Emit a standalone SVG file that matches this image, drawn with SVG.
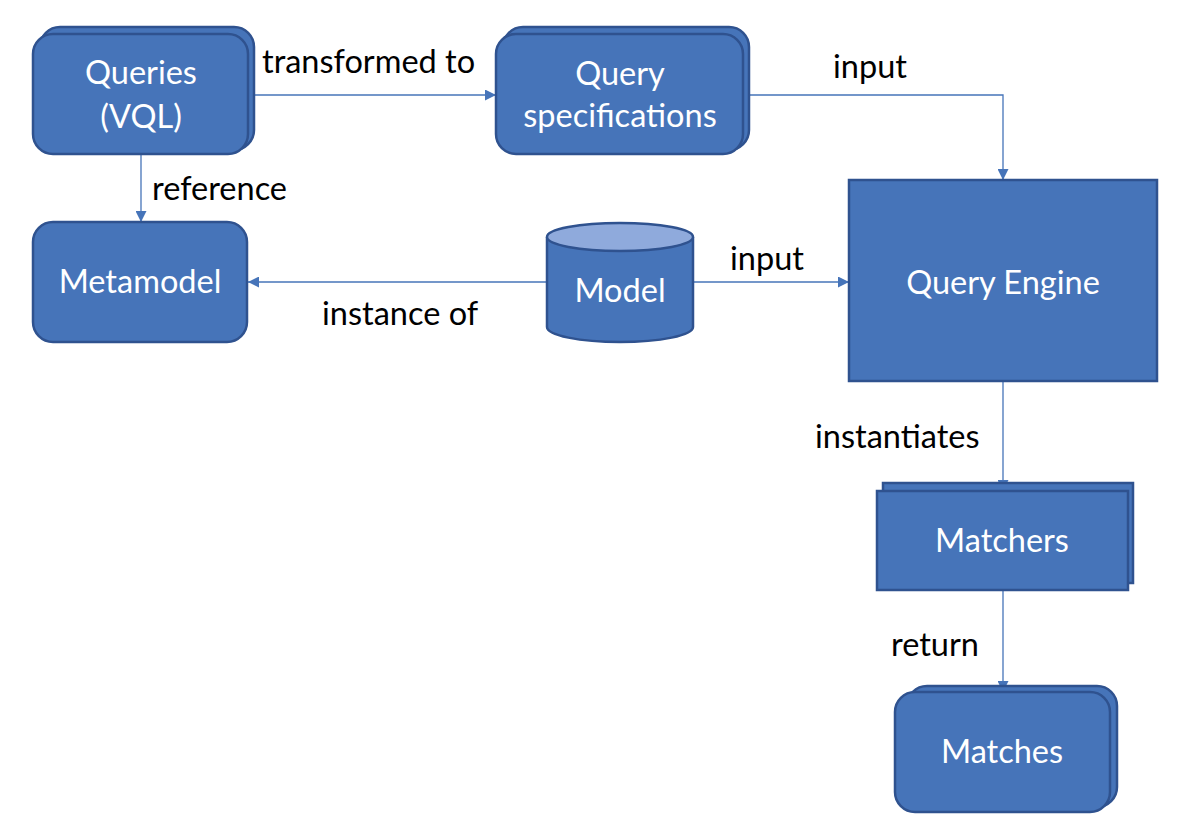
<svg xmlns="http://www.w3.org/2000/svg" width="1177" height="832" viewBox="0 0 1177 832">
<style>
.n{fill:#4674B9;stroke:#2F528F;stroke-width:2.5}
.t{font-family:Lato,"Liberation Sans",sans-serif;font-size:32.5px;fill:#fff;text-anchor:middle}
.l{font-family:Lato,"Liberation Sans",sans-serif;font-size:32.5px;fill:#000}
.c{fill:none;stroke:#4674B9;stroke-width:1.3}
</style>
<defs>
<marker id="ah" viewBox="0 0 10 10" refX="10" refY="5" markerWidth="11" markerHeight="11" markerUnits="userSpaceOnUse" orient="auto">
<path d="M0,0 L10,5 L0,10 z" fill="#4674B9"/>
</marker>
</defs>
<rect width="1177" height="832" fill="#fff"/>
<g id="connectors">
<path class="c" d="M255,95 H496" marker-end="url(#ah)"/>
<path class="c" d="M749,95 H1003 V180" marker-end="url(#ah)"/>
<path class="c" d="M141,154 V222" marker-end="url(#ah)"/>
<path class="c" d="M547,282 H248" marker-end="url(#ah)"/>
<path class="c" d="M693,282 H849" marker-end="url(#ah)"/>
<path class="c" d="M1003,381 V491" marker-end="url(#ah)"/>
<path class="c" d="M1003,590 V692" marker-end="url(#ah)"/>
</g>
<g id="labels">
<text class="l" x="262" y="73">transformed to</text>
<text class="l" x="833" y="78">input</text>
<text class="l" x="152" y="200">reference</text>
<text class="l" x="730" y="270">input</text>
<text class="l" x="322" y="325">instance of</text>
<text class="l" x="815" y="448">instantiates</text>
<text class="l" x="891" y="656">return</text>
</g>
<g id="queries">
<rect class="n" x="40" y="27" width="214" height="123" rx="20"/>
<rect class="n" x="33" y="34" width="215" height="120" rx="20"/>
<text class="t" x="141" y="84">Queries</text>
<text class="t" x="141" y="128">(VQL)</text>
</g>
<g id="query-specifications">
<rect class="n" x="503" y="27" width="246" height="123" rx="20"/>
<rect class="n" x="496" y="34" width="247" height="120" rx="20"/>
<text class="t" x="620" y="85">Query</text>
<text class="t" x="620" y="127">specifications</text>
</g>
<g id="metamodel">
<rect class="n" x="33" y="222" width="214" height="120" rx="20"/>
<text class="t" x="140" y="293">Metamodel</text>
</g>
<g id="model">
<path class="n" d="M547,237 V327 A73,15 0 0 0 693,327 V237"/>
<ellipse cx="620" cy="237" rx="73" ry="14" fill="#8FAADC" stroke="#2F528F" stroke-width="2.5"/>
<text class="t" x="620" y="302">Model</text>
</g>
<g id="query-engine">
<rect class="n" x="849" y="180" width="308" height="201"/>
<text class="t" x="1003" y="294">Query Engine</text>
</g>
<g id="matchers">
<rect class="n" x="883" y="483" width="250" height="100"/>
<rect class="n" x="877" y="491" width="251" height="99"/>
<text class="t" x="1002" y="552">Matchers</text>
</g>
<g id="matches">
<rect class="n" x="907" y="686" width="210" height="121" rx="20"/>
<rect class="n" x="895" y="692" width="215" height="120" rx="20"/>
<text class="t" x="1002" y="763">Matches</text>
</g>
</svg>
